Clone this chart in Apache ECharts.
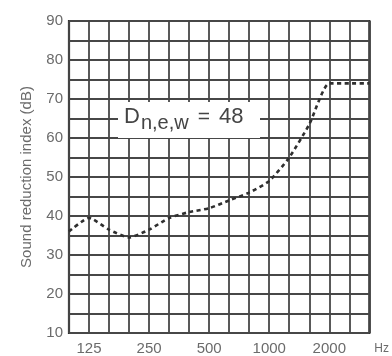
<!DOCTYPE html>
<html>
<head>
<meta charset="utf-8">
<script src="https://cdn.jsdelivr.net/npm/echarts@6/dist/echarts.min.js"></script>
<style>
html,body{margin:0;padding:0;background:#fff;}
#c{width:392px;height:356px;}
</style>
</head>
<body>
<div id="c"></div>
<script>
// Third-octave band centre frequencies (Hz)
var bands = ['100','125','160','200','250','315','400','500','630','800','1000','1250','1600','2000','2500','3150'];
// Sound reduction index (dB)
var reduction = [36, 39.5, 36.5, 34.5, 36.5, 39.5, 41, 42, 44, 46, 49, 55, 63.5, 74, 74, 74];
// Labelled tick values
var xTickLabels = ['125','250','500','1000','2000'];
var yMin = 10, yMax = 90, yStep = 5, yLabelStep = 10;
var ratingLabel = {main: 'D', sub: 'n,e,w', eq: '=', value: '48'};

var chart = echarts.init(document.getElementById('c'), null, {renderer: 'canvas'});
var textColor = '#6b6b6b';
var gridColor = '#474747';
var font = 'Liberation Sans';

chart.setOption({
  animation: false,
  backgroundColor: '#fff',
  grid: {left: 69, right: 20, top: 21, bottom: 23, show: true, borderColor: '#2e2e2e', borderWidth: 2.2, backgroundColor: 'transparent'},
  xAxis: {
    type: 'category',
    data: bands,
    boundaryGap: false,
    name: 'Hz',
    nameLocation: 'end',
    nameGap: 5,
    nameTextStyle: {color: textColor, fontFamily: font, fontSize: 12, verticalAlign: 'top', padding: [10, 0, 0, 0]},
    axisLine: {show: false},
    axisTick: {show: false},
    axisLabel: {
      interval: 0,
      margin: 8,
      color: textColor, fontFamily: font, fontSize: 15,
      formatter: function (v) { return xTickLabels.indexOf(v) >= 0 ? v : ''; }
    },
    splitLine: {show: true, interval: 0, lineStyle: {color: gridColor, width: 1.8}}
  },
  yAxis: {
    type: 'value',
    min: yMin, max: yMax, interval: yStep,
    name: 'Sound reduction index (dB)',
    nameLocation: 'middle',
    nameGap: 35,
    nameTextStyle: {color: textColor, fontFamily: font, fontSize: 15},
    axisLine: {show: false},
    axisTick: {show: false},
    axisLabel: {
      margin: 6,
      color: textColor, fontFamily: font, fontSize: 15,
      formatter: function (v) { return (v % yLabelStep === 0) ? String(v) : ''; }
    },
    splitLine: {show: true, lineStyle: {color: gridColor, width: 1.8}}
  },
  graphic: [
    {type: 'rect', shape: {x: 118, y: 102, width: 142, height: 36}, style: {fill: '#fff'}, z: 10},
    {type: 'text', x: 124, y: 105, z: 11, style: {
      text: '{a|' + ratingLabel.main + '}{b|' + ratingLabel.sub + '}{c|' + ratingLabel.eq + '}{d|' + ratingLabel.value + '}',
      rich: {
        a: {fontSize: 22, fontFamily: font, fill: '#444', lineHeight: 24},
        b: {fontSize: 20, fontFamily: font, fill: '#444', padding: [12, 0, 0, 1], lineHeight: 24},
        c: {fontSize: 21, fontFamily: font, fill: '#444', lineHeight: 24, padding: [0, 0, 0, 9]},
        d: {fontSize: 22, fontFamily: font, fill: '#444', lineHeight: 24, padding: [0, 0, 0, 9]}
      }
    }}
  ],
  series: [{
    type: 'line',
    data: reduction,
    symbol: 'none',
    smooth: 0.2,
    lineStyle: {color: '#2f2f2f', width: 2.6, type: [4, 3.5]},
    z: 5
  }]
});
</script>
</body>
</html>
